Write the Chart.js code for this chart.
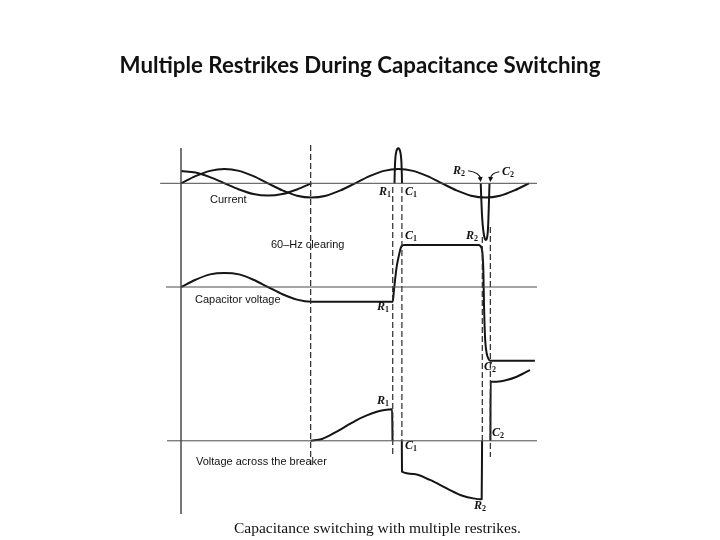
<!DOCTYPE html>
<html>
<head>
<meta charset="utf-8">
<title>Multiple Restrikes During Capacitance Switching</title>
<script src="https://cdn.jsdelivr.net/npm/chart.js@4.4.1/dist/chart.umd.min.js"></script>
<style>
  html, body { margin: 0; padding: 0; background: #fff; }
  canvas { display: block; }
</style>
</head>
<body>
<canvas id="chart" width="720" height="540"></canvas>
<script>
// time in ms (0 = first zero of the source voltage), values in per unit
// null = the trace is not drawn there (it lies on the axis)

// source voltage (top panel)
const srcT = [0, 1.39, 2.78, 4.17, 5.56, 6.94, 8.33, 9.72, 11.11, 12.5, 13.89, 15.28, 16.67,
  18.06, 19.44, 20.83, 22.22, 23.61, 25.0, 26.39, 27.78, 29.17, 30.56, 31.94, 33.33];
const srcV = [0, 0.5, 0.87, 1, 0.87, 0.5, 0, -0.5, -0.87, -1, -0.87, -0.5, 0,
  0.5, 0.87, 1, 0.87, 0.5, 0, -0.5, -0.87, -1, -0.87, -0.5, 0];

// breaker current (top panel)
const curT = [0, 1.39, 2.78, 4.17, 5.56, 6.94, 8.33, 9.72, 11.11, 12.5, 16,
  20.45, 20.47, 20.5, 20.55, 20.63, 20.72, 20.81, 20.9, 20.99, 21.07, 21.12, 21.15, 21.17, 25,
  28.71, 28.76, 28.82, 28.9, 29.0, 29.1, 29.21, 29.31, 29.39, 29.45, 29.5, 29.55];
const curI = [1, 0.87, 0.5, 0, -0.5, -0.87, -1, -0.87, -0.5, 0, null,
  0, 0.8, 1.6, 2.2, 2.6, 2.8, 2.85, 2.8, 2.6, 2.2, 1.6, 0.8, 0, null,
  0, -1.2, -2.4, -3.4, -4.1, -4.5, -4.6, -4.45, -3.9, -2.8, -1.4, 0];

// capacitor voltage (middle panel)
const capT = [0, 1.39, 2.78, 4.17, 5.56, 6.94, 8.33, 9.72, 11.11, 12.5, 20.28, 20.4, 20.66,
  20.91, 21.05, 21.2, 21.4, 28.5, 28.8, 28.96, 29.02, 29.12, 29.28, 29.45, 29.6, 33.9];
const capV = [0, 0.5, 0.87, 0.97, 0.87, 0.5, 0, -0.5, -0.87, -1.02, -1.02, -0.2, 1.4,
  2.3, 2.7, 2.87, 2.9, 2.9, 2.67, 1.17, -1.12, -3.43, -4.57, -4.95, -5.08, -5.08];

// voltage across the breaker (bottom panel)
const brkT = [12.42, 13.5, 14.91, 15.9, 16.83, 17.8, 18.75, 19.5, 20.22, 20.26, 20.7,
  21.15, 21.17, 22.25, 23.85, 25.45, 27.04, 28.0, 28.8, 28.84, 29.2,
  29.64, 29.66, 30.27, 31.2, 32.16, 32.95, 33.43];
const brkV = [0, 0.12, 0.63, 1.05, 1.43, 1.75, 2.0, 2.12, 2.17, 0, null,
  0, -2.13, -2.29, -2.7, -3.28, -3.81, -3.97, -4.03, 0, null,
  0, 4.08, 4.08, 4.19, 4.42, 4.7, 4.88];

// switching events: 60-Hz clearing, restrikes R and clearings C
const eventNames = ['60-Hz clearing', 'R1', 'C1', 'R2', 'C2'];
const eventT = [12.42, 20.28, 21.16, 28.86, 29.63];

// ---- layout ----
const W = 720, H = 540;
const PX_PER_MS = 10.44, T0_PX = 181;
// each panel: pixel row of its zero line and pixels per unit
function panelAxis(zeroPx, pxPerUnit) {
  return { type: 'linear', display: false, min: -(H - zeroPx) / pxPerUnit, max: zeroPx / pxPerUnit };
}

function pts(ts, vs) {
  return ts.map((t, i) => ({ x: t, y: vs[i] }));
}

const ink = '#151515';
function trace(ts, vs, axis) {
  return {
    data: pts(ts, vs), yAxisID: axis, borderColor: ink, borderWidth: 2,
    pointRadius: 0, cubicInterpolationMode: 'monotone', borderJoinStyle: 'round', fill: false
  };
}
function rule(x0, x1, y0, y1, axis, width, dash) {
  return {
    data: [{ x: x0, y: y0 }, { x: x1, y: y1 }], yAxisID: axis, borderColor: dash ? '#2a2a2a' : '#4a4a4a',
    borderWidth: width, borderDash: dash || [], pointRadius: 0, fill: false
  };
}

const datasets = [
  // zero lines of the three panels and the vertical axis
  rule(-2.0, 34.1, 0, 0, 'yI', 1),
  rule(-1.44, 34.1, 0, 0, 'yVc', 1),
  rule(-1.34, 34.1, 0, 0, 'yVb', 1),
  rule(0, 0, 148, 514, 'fig', 1.5)
];
// dashed event lines (vertical extent in figure pixels)
const dashTop = [145, 187, 187, 237, 227];
const dashBottom = [465, 455, 441, 441, 457];
eventT.forEach((t, i) => datasets.push(rule(t, t, dashTop[i], dashBottom[i], 'fig', 1.2, [6, 3])));
datasets.push(trace(srcT, srcV, 'yE'));
datasets.push(trace(curT, curI, 'yI'));
datasets.push(trace(capT, capV, 'yVc'));
datasets.push(trace(brkT, brkV, 'yVb'));

function fitSize(ctx, text, weight, family, width) {
  ctx.font = `${weight} 100px ${family}`;
  return 100 * width / ctx.measureText(text).width;
}

function rcLabel(ctx, name, x, y) {
  ctx.font = 'bold italic 12px "Liberation Serif"';
  ctx.fillText(name[0], x, y);
  const w = ctx.measureText(name[0]).width;
  ctx.font = 'bold 8px "Liberation Serif"';
  ctx.fillText(name[1], x + w, y + 3);
}

function arrow(ctx, sx, sy, cx, cy, ex, ey) {
  ctx.beginPath();
  ctx.moveTo(sx, sy);
  ctx.quadraticCurveTo(cx, cy, ex, ey - 3);
  ctx.stroke();
  const a = Math.atan2(ey - cy, ex - cx);
  ctx.beginPath();
  ctx.moveTo(ex, ey);
  ctx.lineTo(ex - 5 * Math.cos(a) + 2.5 * Math.sin(a), ey - 5 * Math.sin(a) - 2.5 * Math.cos(a));
  ctx.lineTo(ex - 5 * Math.cos(a) - 2.5 * Math.sin(a), ey - 5 * Math.sin(a) + 2.5 * Math.cos(a));
  ctx.closePath();
  ctx.fill();
}

const figureText = {
  id: 'figureText',
  afterDatasetsDraw(chart) {
    const ctx = chart.ctx;
    const x = chart.scales.x, yI = chart.scales.yI;
    ctx.save();
    ctx.fillStyle = '#111';
    ctx.strokeStyle = '#111';
    ctx.textBaseline = 'alphabetic';

    // title
    const title = 'Multiple Restrikes During Capacitance Switching';
    ctx.font = `bold ${fitSize(ctx, title, 'bold', 'Lato', 481)}px Lato`;
    ctx.textAlign = 'center';
    ctx.fillText(title, 360, 73);

    // caption
    const caption = 'Capacitance switching with multiple restrikes.';
    ctx.font = `${fitSize(ctx, caption, 'normal', '"Liberation Serif"', 287)}px "Liberation Serif"`;
    ctx.textAlign = 'left';
    ctx.fillText(caption, 234, 533);

    // trace names
    ctx.font = '11px "Liberation Sans"';
    ctx.textBaseline = 'middle';
    ctx.fillText('Current', 210, 200);
    ctx.fillText('60–Hz clearing', 271, 245);
    ctx.fillText('Capacitor voltage', 195, 300);
    ctx.fillText('Voltage across the breaker', 196, 462);

    // restrike / clearing marks
    rcLabel(ctx, eventNames[1], 379, 192);
    rcLabel(ctx, eventNames[2], 405, 192);
    rcLabel(ctx, eventNames[2], 405, 236);
    rcLabel(ctx, eventNames[3], 466, 236);
    rcLabel(ctx, eventNames[1], 377, 307);
    rcLabel(ctx, eventNames[4], 484, 367);
    rcLabel(ctx, eventNames[1], 377, 401);
    rcLabel(ctx, eventNames[2], 405, 446);
    rcLabel(ctx, eventNames[4], 492, 433);
    rcLabel(ctx, eventNames[3], 474, 506);
    rcLabel(ctx, eventNames[3], 453, 171);
    rcLabel(ctx, eventNames[4], 502, 172);

    // curved pointers to the second restrike and clearing
    ctx.lineWidth = 1.2;
    arrow(ctx, x.getPixelForValue(27.5), yI.getPixelForValue(1.02),
      x.getPixelForValue(28.6), yI.getPixelForValue(0.9),
      x.getPixelForValue(28.71), yI.getPixelForValue(0.1));
    arrow(ctx, x.getPixelForValue(30.49), yI.getPixelForValue(0.94),
      x.getPixelForValue(29.7), yI.getPixelForValue(0.85),
      x.getPixelForValue(29.62), yI.getPixelForValue(0.1));
    ctx.restore();
  }
};

new Chart(document.getElementById('chart'), {
  type: 'line',
  data: { datasets: datasets },
  options: {
    responsive: false,
    animation: false,
    layout: { padding: 0, autoPadding: false },
    plugins: { legend: { display: false }, title: { display: false }, tooltip: { enabled: false } },
    scales: {
      x: { type: 'linear', display: false, min: -T0_PX / PX_PER_MS, max: (W - T0_PX) / PX_PER_MS },
      yI: panelAxis(183.3, 12.3),
      yE: panelAxis(183.3, 14.3),
      yVc: panelAxis(287, 14.5),
      yVb: panelAxis(440.8, 14.5),
      fig: { type: 'linear', display: false, min: 0, max: H, reverse: true }
    }
  },
  plugins: [figureText]
});
</script>
</body>
</html>
